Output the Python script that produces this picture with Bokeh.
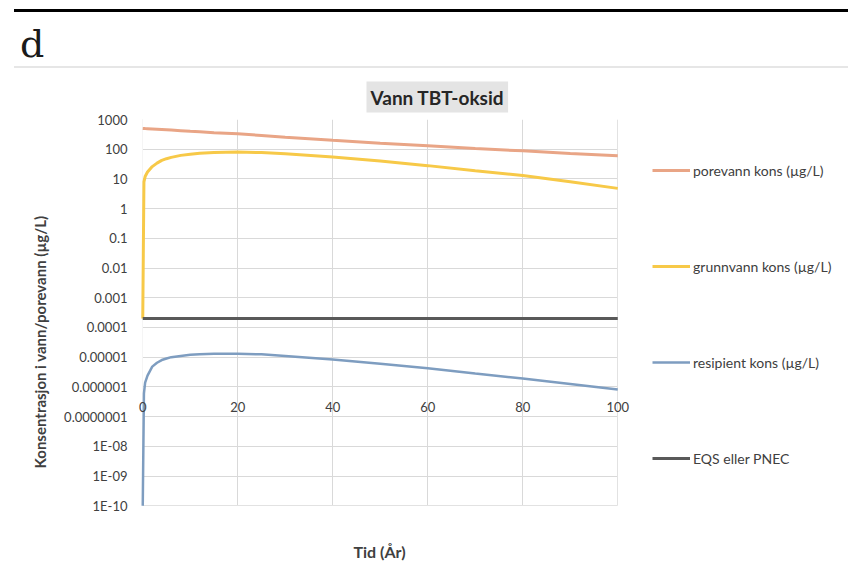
from bokeh.plotting import figure
from bokeh.models import (Range1d, FixedTicker, Legend, LegendItem, Div, Label,
                          BoxAnnotation, Title)
from bokeh.layouts import column
from bokeh.embed import file_html
from bokeh.resources import INLINE

# ---- data ----
years = [0, 0.25, 0.5, 1, 2, 3, 4, 5, 6, 8, 10, 12, 15, 20, 25, 30, 40, 50, 60, 70, 80, 90, 100]
porevann = [500, 497, 494, 490, 480, 470, 460, 450, 440, 420, 400, 385, 360, 330, 290, 255,
            200, 160, 130, 105, 88, 72, 60]
grunnvann = [2e-4, 8, 12, 17, 26, 34, 42, 48, 53, 62, 68, 73, 77, 80, 77, 70,
             55, 40, 28, 19, 13, 8, 4.8]
resipient = [1e-10, 6e-7, 1.4e-6, 2.4e-6, 4.8e-6, 6.5e-6, 8e-6, 9e-6, 1e-5, 1.1e-5, 1.2e-5,
             1.25e-5, 1.3e-5, 1.3e-5, 1.25e-5, 1.1e-5, 8.3e-6, 6e-6, 4.2e-6, 2.8e-6,
             1.9e-6, 1.25e-6, 8.1e-7]
eqs_years = [0, 100]
eqs = [2e-4, 2e-4]

series_names = ["porevann kons (µg/L)", "grunnvann kons (µg/L)",
                "resipient kons (µg/L)", "EQS eller PNEC"]

x_ticks = [0, 20, 40, 60, 80, 100]
y_ticks = [1e-10, 1e-9, 1e-8, 1e-7, 1e-6, 1e-5, 1e-4, 1e-3, 1e-2, 1e-1, 1, 10, 100, 1000]
y_tick_labels = ["1E-10", "1E-09", "1E-08", "0.0000001", "0.000001", "0.00001", "0.0001",
                 "0.001", "0.01", "0.1", "1", "10", "100", "1000"]

FONT = "Lato"
TXT = "#404040"
GRID = "#D9D9D9"

header = Div(
    text=(
        '<div style="position:relative;width:848px;height:70px;">'
        '<div style="position:absolute;left:14px;top:9px;width:834px;height:3px;background:#000;"></div>'
        '<div style="position:absolute;left:20px;top:22px;font-family:\'DejaVu Serif\';'
        'font-size:38px;line-height:44px;color:#1a1a1a;">d</div>'
        '<div style="position:absolute;left:14px;top:66px;width:834px;height:2px;background:#E6E6E6;"></div>'
        '</div>'
    ),
    width=848, height=70, margin=0,
)

# The frame reaches the right and bottom edges so that the legend and the x title
# (drawn inside it) are not clipped; the 0..100 / 1E-10..1000 plot area is kept by
# the ranges and white masks outside it.
p = figure(width=848, height=494, x_range=Range1d(-3, 148.58),
           y_range=Range1d(1.05e-12, 1000),
           y_axis_type="log", output_backend="svg", toolbar_location=None,
           min_border_left=128, min_border_right=0, min_border_top=49, min_border_bottom=0,
           background_fill_color="white", border_fill_color="white")

p.title = Title(text="Vann TBT-oksid", align="left", offset=238, standoff=14,
                text_font=FONT, text_font_size="19px", text_font_style="bold",
                text_color="#262626", background_fill_color="#E4E4E4", padding=4)

p.outline_line_color = None
p.xgrid.grid_line_color = GRID
p.ygrid.grid_line_color = GRID
p.ygrid.minor_grid_line_color = None

# white masks outside the 0..100 x 1E-10..1000 plot area (drawn over the grid only)
p.add_layout(BoxAnnotation(right=x_ticks[0], fill_color="white", fill_alpha=1,
                           line_color=None, level="underlay"))
p.add_layout(BoxAnnotation(left=x_ticks[-1], fill_color="white", fill_alpha=1,
                           line_color=None, level="underlay"))
p.add_layout(BoxAnnotation(top=y_ticks[0], fill_color="white", fill_alpha=1,
                           line_color=None, level="underlay"))

# y axis
p.yaxis.ticker = FixedTicker(ticks=y_ticks)
p.yaxis.major_label_overrides = {t: l for t, l in zip(y_ticks, y_tick_labels)}
p.yaxis.axis_line_color = None
p.yaxis.major_tick_line_color = None
p.yaxis.minor_tick_line_color = None
p.yaxis.major_tick_out = 0
p.yaxis.minor_tick_out = 0
p.yaxis.major_label_standoff = 1
p.yaxis.major_label_text_font = FONT
p.yaxis.major_label_text_font_size = "13px"
p.yaxis.major_label_text_color = TXT
p.yaxis.axis_label = "Konsentrasjon i vann/porevann (µg/L)"
p.yaxis.axis_label_text_font = FONT
p.yaxis.axis_label_text_font_size = "15px"
p.yaxis.axis_label_text_font_style = "bold"
p.yaxis.axis_label_text_color = TXT
p.yaxis.axis_label_standoff = 12

# x axis crossing inside the plot, like the original
p.xaxis.ticker = FixedTicker(ticks=x_ticks)
p.xaxis.fixed_location = 3.7e-7
p.xaxis.axis_line_color = None
p.xaxis.major_tick_line_color = None
p.xaxis.minor_tick_line_color = None
p.xaxis.major_tick_out = 0
p.xaxis.minor_tick_out = 0
p.xaxis.major_label_standoff = 2
p.xaxis.major_label_text_font = FONT
p.xaxis.major_label_text_font_size = "13px"
p.xaxis.major_label_text_color = TXT

p.add_layout(Label(x=251, y=13, x_units="screen", y_units="screen", text="Tid (År)",
                   text_align="center", text_baseline="middle", text_font=FONT,
                   text_font_size="16px", text_font_style="bold", text_color=TXT))

r1 = p.line(years, porevann, line_color="#E9A586", line_width=3)
r2 = p.line(years, grunnvann, line_color="#F7C948", line_width=3)
r3 = p.line(years, resipient, line_color="#7E9DC0", line_width=2.5)
r4 = p.line(eqs_years, eqs, line_color="#595959", line_width=3)

legend = Legend(
    items=[LegendItem(label=series_names[0], renderers=[r1]),
           LegendItem(label=series_names[1], renderers=[r2]),
           LegendItem(label=series_names[2], renderers=[r3]),
           LegendItem(label=series_names[3], renderers=[r4])],
    location=(524, 96), glyph_width=38, glyph_height=20, label_height=20,
    spacing=76, padding=0, margin=0, label_standoff=3,
    border_line_color=None, background_fill_alpha=0,
    label_text_font=FONT, label_text_font_size="14px", label_text_color=TXT,
)
p.add_layout(legend)

layout = column(header, p, spacing=0, margin=0)
open("out.html", "w").write(file_html(layout, INLINE))
